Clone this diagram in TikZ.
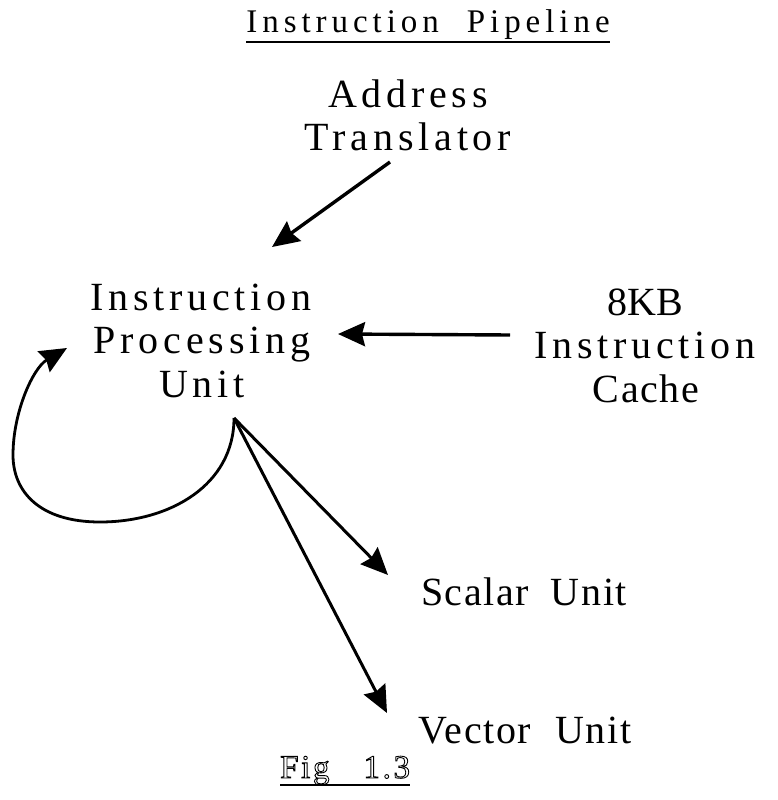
\documentclass[tikz,border=0pt]{standalone}
\usepackage{fontspec}
\setmainfont{Liberation Serif}
\usetikzlibrary{arrows.meta}
\newcommand\outlined[1]{\special{pdf:literal direct 1 Tr 0.9 w}#1\special{pdf:literal direct 0 Tr}}
\begin{document}
\begin{tikzpicture}[x=1pt,y=-1pt,
  lbl/.style={inner sep=0pt, anchor=base,
    font=\fontsize{40}{40}\selectfont\addfontfeature{LetterSpace=12}},
  tight/.style={lbl, font=\fontsize{40}{40}\selectfont\addfontfeature{LetterSpace=4}},
  arr/.style={line width=3.4pt, -{Stealth[length=27pt,width=24pt,inset=3pt]}},
  uline/.style={line width=1.8pt}]
\useasboundingbox (0,0) rectangle (778,800);

% heading
\node[lbl, font=\fontsize{33}{33}\selectfont\addfontfeature{LetterSpace=15}]
  (title) at (428,33) {Instruction\hspace{28pt}Pipeline};
\draw[uline] ([yshift=-9pt]title.base west) -- ([yshift=-9pt]title.base east);

% labels
\node[lbl] (at1) at (408,107) {Address};
\node[lbl] (at2) at (408,150) {Translator};

\node[lbl] (ipu1) at (201,310) {Instruction};
\node[lbl] (ipu2) at (202,353) {Processing};
\node[lbl] (ipu3) at (202,397) {Unit};

\node[tight, font=\fontsize{40}{40}\selectfont] (ic1) at (645,315) {8KB};
\node[lbl] (ic2) at (645,358) {Instruction};
\node[tight] (ic3) at (646,402) {Cache};

\node[tight] (su) at (524,605) {Scalar\hspace{22pt}Unit};
\node[tight] (vu) at (525,743) {Vector\hspace{24pt}Unit};

\node[lbl, anchor=base west, font=\fontsize{33}{33}\selectfont\addfontfeature{LetterSpace=8}]
  (fig) at (280,778) {\outlined{Fig\hspace{34pt}1.3}};
\draw[uline] ([yshift=-7pt]fig.base west) -- ([yshift=-7pt]fig.base east);

% connector end points
\coordinate (atTail) at (390,162);
\coordinate (atTip)  at (272,247);
\coordinate (icTail) at (510,335);
\coordinate (icTip)  at (338,334);
\coordinate (ipuOut) at (234,418);
\coordinate (loopTip) at (67,348);
\coordinate (suTip) at (388,575);
\coordinate (vuTip) at (387,713);

% connectors
\draw[arr] (atTail) -- (atTip);
\draw[arr] (icTail) -- (icTip);
\draw[arr, line width=3pt] (ipuOut) -- (suTip);
\draw[arr, line width=3pt] (ipuOut) -- (vuTip);
\draw[arr, line width=2.8pt] (ipuOut)
  .. controls (234,485) and (170,522) .. (100,522)
  .. controls (40,522) and (13,492) .. (13,455)
  .. controls (13,412) and (33,368) .. (loopTip);
\end{tikzpicture}
\end{document}
